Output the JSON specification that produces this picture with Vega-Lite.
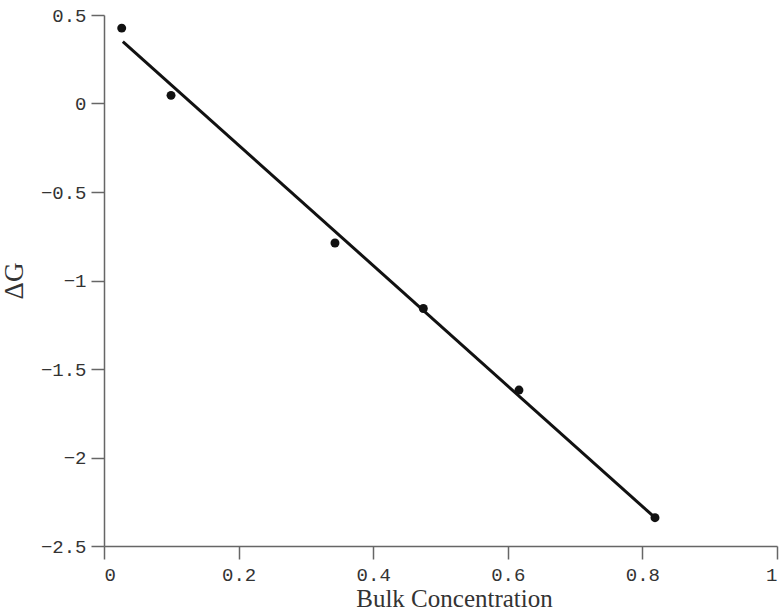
{
  "$schema": "https://vega.github.io/schema/vega-lite/v6.json",
  "width": 673,
  "height": 531,
  "autosize": {"type": "none"},
  "padding": {"left": 104, "top": 15, "right": 5, "bottom": 68},
  "background": "white",
  "config": {
    "view": {"stroke": null},
    "axis": {
      "domainColor": "#666666",
      "domainWidth": 1.5,
      "tickColor": "#666666",
      "tickWidth": 1.5,
      "tickSize": 13,
      "grid": false,
      "labelFont": "Liberation Mono",
      "labelFontSize": 19,
      "labelColor": "#333333",
      "titleFont": "Liberation Serif",
      "titleFontSize": 23,
      "titleFontWeight": "normal",
      "titleColor": "#333333"
    }
  },
  "datasets": {
    "points": [
      {"concentration": 0.0263, "dG": 0.426},
      {"concentration": 0.0996, "dG": 0.046},
      {"concentration": 0.3432, "dG": -0.788},
      {"concentration": 0.4745, "dG": -1.158},
      {"concentration": 0.6166, "dG": -1.619},
      {"concentration": 0.8187, "dG": -2.340}
    ],
    "fit": [
      {"concentration": 0.028, "dG": 0.35},
      {"concentration": 0.8187, "dG": -2.340}
    ]
  },
  "layer": [
    {
      "data": {"name": "fit"},
      "mark": {"type": "line", "color": "#111111", "strokeWidth": 3},
      "encoding": {
        "x": {
          "field": "concentration",
          "type": "quantitative",
          "scale": {"domain": [0, 1], "nice": false, "zero": false},
          "axis": {
            "title": "Bulk Concentration",
            "values": [0, 0.2, 0.4, 0.6, 0.8, 1],
            "format": "~g",
            "labelPadding": 6,
            "titlePadding": 2,
            "titleFontSize": 25,
            "titleX": 350
          }
        },
        "y": {
          "field": "dG",
          "type": "quantitative",
          "scale": {"domain": [-2.5, 0.5], "nice": false, "zero": false},
          "axis": {
            "title": "ΔG",
            "values": [-2.5, -2, -1.5, -1, -0.5, 0, 0.5],
            "format": "~g",
            "labelPadding": 5,
            "titlePadding": 12,
            "titleFontSize": 27
          }
        }
      }
    },
    {
      "data": {"name": "points"},
      "mark": {"type": "point", "filled": true, "color": "#111111", "size": 80, "opacity": 1},
      "encoding": {
        "x": {"field": "concentration", "type": "quantitative"},
        "y": {"field": "dG", "type": "quantitative"}
      }
    }
  ]
}
